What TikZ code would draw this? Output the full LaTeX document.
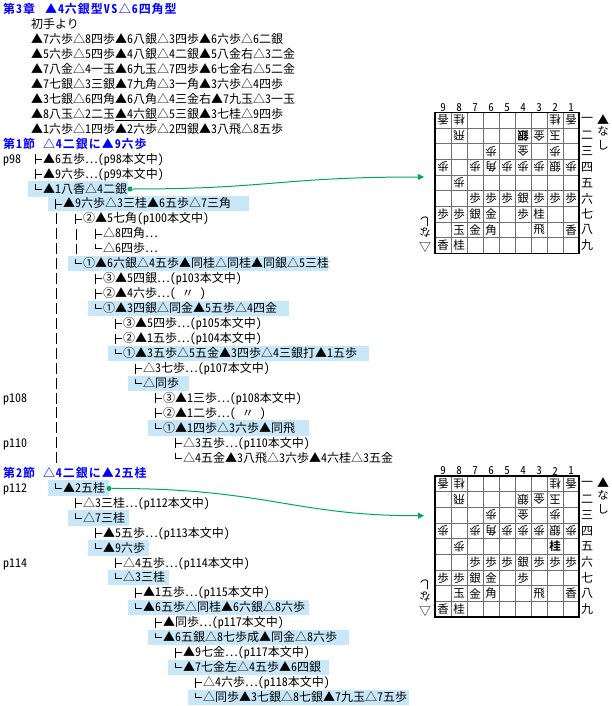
\documentclass[tikz,border=0pt]{standalone}
\usepackage{fontspec}
\usepackage{xcolor}
\usetikzlibrary{arrows.meta}
\newfontfamily\jp{Noto Sans CJK JP}[RawFeature=+hwid]
\newfontfamily\jphead{Noto Sans CJK JP Bold}[RawFeature=+hwid, LetterSpace=8]
\definecolor{hilite}{HTML}{C8E8FA}
\definecolor{linkgreen}{HTML}{00AA55}
\definecolor{headblue}{HTML}{0000FF}
\definecolor{gridgray}{HTML}{707070}

\tikzset{
    txt/.style = {anchor=west, inner sep=0pt, text height=10pt, text depth=2pt, font=\fontsize{12}{14}\jp},
    moveline/.style = {txt},
    headline/.style = {txt, text=headblue, font=\fontsize{12}{14}\jphead},
    twig/.style = {black, line width=0.8pt},
    stem/.style = {black, line width=0.8pt, dash pattern=on 11pt off 3.96pt},
    link/.style = {linkgreen, line width=1pt, -{Triangle[length=6pt,width=6pt]}},
    linkdot/.style = {circle, fill=linkgreen, inner sep=0pt, minimum size=5pt},
    sente/.style = {inner sep=0pt, font=\fontsize{11.5}{12}\jp},
    gote/.style = {sente, rotate=180},
    label/.style = {inner sep=0pt, font=\fontsize{11}{12}\jp}
}

\newcommand{\sharedpieces}[1]{
    \foreach \col/\rank/\pc in {9/1/香, 8/1/桂, 2/1/桂, 1/1/香, 8/2/飛, 3/2/金, 2/2/玉, 6/3/歩, 4/3/金, 2/3/歩,
        9/4/歩, 7/4/歩, 6/4/角, 5/4/歩, 4/4/歩, 3/4/歩, 2/4/銀, 1/4/歩, 8/5/歩}
        \node[gote] (g#1c\col r\rank) at ({(9.5-\col)*16},{(\rank-0.5)*15.67}) {\pc};
    \foreach \col/\rank/\pc in {7/6/歩, 6/6/歩, 5/6/歩, 4/6/銀, 3/6/歩, 2/6/歩, 1/6/歩, 9/7/歩, 8/7/歩, 7/7/銀, 6/7/金, 4/7/歩,
        8/8/玉, 7/8/金, 6/8/角, 3/8/飛, 1/8/香, 9/9/香, 8/9/桂}
        \node[sente] (s#1c\col r\rank) at ({(9.5-\col)*16},{(\rank-0.5)*15.67}) {\pc};
}

\newcommand{\boardframe}[1]{
    \foreach \i in {1,...,8} {
        \draw[gridgray, line width=0.9pt] ({\i*16},0) -- ({\i*16},141);
        \draw[gridgray, line width=0.9pt] (0,{\i*15.67}) -- (144,{\i*15.67});
    }
    \draw[black, line width=1.3pt] (0,0) rectangle (144,141);
    \foreach \col in {1,...,9}
        \node[label] (fl#1c\col) at ({(9.5-\col)*16},-5) {\col};
    \foreach \rank/\kan in {1/一, 2/二, 3/三, 4/四, 5/五, 6/六, 7/七, 8/八, 9/九}
        \node[sente, font=\fontsize{12}{14}\jp] (kn#1r\rank) at (152,{(\rank-0.5)*15.67}) {\kan};
    \node[sente, font=\fontsize{12}{14}\jp] (bh#1a) at (168,7) {▲};
    \node[sente] (bh#1b) at (168,19) {な};
    \node[sente] (bh#1c) at (168,33) {し};
    \node[gote, font=\fontsize{12}{14}\jp] (wh#1a) at (-10,135) {△};
    \node[gote] (wh#1b) at (-10,121) {な};
    \node[gote] (wh#1c) at (-10,109) {し};
}

\begin{document}
\begin{tikzpicture}[x=1pt, y=-1pt]
    \useasboundingbox[fill=white] (0,0) rectangle (612,706);

    \foreach \rownum/\xa/\xb in {12/28/128, 13/48/249, 17/68/328, 20/88/289, 23/108/369, 25/128/189, 28/148/309,
        32/48/109, 34/68/129, 36/88/149, 38/108/169, 40/128/309, 42/148/349, 44/168/329, 46/188/409} {
        \pgfmathsetmacro{\ry}{9.5+14.96*\rownum}
        \fill[hilite] (\xa,\ry-8) rectangle (\xb,\ry+7.5);
    }

    \node[headline] (title) at (3,9.5) {第3章　\hspace{3pt}▲4六銀型V\hspace{1.5pt}S\hspace{1.5pt}△6四角型};
    \node[headline] (sec1) at (3,144) {第1節　△4二銀に▲9六歩};
    \node[headline] (sec2) at (3,473.5) {第2節　△4二銀に▲2五桂};

    \foreach \rownum/\txt in {1/初手より, 2/▲7六歩△8四歩▲6八銀△3四歩▲6六歩△6二銀, 3/▲5六歩△5四歩▲4八銀△4二銀▲5八金右△3二金,
        4/▲7八金△4一玉▲6九玉△7四歩▲6七金右△5二金, 5/▲7七銀△3三銀▲7九角△3一角▲3六歩△4四歩,
        6/▲3七銀△6四角▲6八角△4三金右▲7九玉△3一玉, 7/▲8八玉△2二玉\underline{▲4六銀}△5三銀▲3七桂△9四歩,
        8/▲1六歩△1四歩▲2六歩△2四銀▲3八飛△8五歩} {
        \pgfmathsetmacro{\ry}{9.5+14.96*\rownum}
        \node[moveline] (opening\rownum) at (31,\ry) {\txt};
    }

    \foreach \rownum/\pg in {10/p98, 26/p108, 29/p110, 32/p112, 37/p114} {
        \pgfmathsetmacro{\ry}{9.5+14.96*\rownum}
        \node[moveline] (page\rownum) at (3,\ry) {\pg};
    }

    \foreach \rownum/\lev/\kind/\txt in {
        10/0/5/▲6五歩⋯(p98本文中),
        11/0/5/▲9六歩⋯(p99本文中),
        12/0/0/▲1八香△4二銀,
        13/1/5/▲9六歩△3三桂▲6五歩△7三角,
        14/2/5/②▲5七角(p100本文中),
        15/3/5/△8四角⋯,
        16/3/0/△6四歩⋯,
        17/2/0/①▲6六銀△4五歩▲同桂△同桂▲同銀△5三桂,
        18/3/5/③▲5四銀⋯(p103本文中),
        19/3/5/②▲4六歩⋯(　〃 ),
        20/3/0/①▲3四銀△同金▲5五歩△4四金,
        21/4/5/③▲5四歩⋯(p105本文中),
        22/4/5/②▲1五歩⋯(p104本文中),
        23/4/0/①▲3五歩△5五金▲3四歩△4三銀打▲1五歩,
        24/5/5/△3七歩⋯(p107本文中),
        25/5/0/△同歩,
        26/6/5/③▲1三歩⋯(p108本文中),
        27/6/5/②▲1二歩⋯(　〃 ),
        28/6/0/①▲1四歩△3六歩▲同飛,
        29/7/5/△3五歩⋯(p110本文中),
        30/7/0/△4五金▲3八飛△3六歩▲4六桂△3五金,
        32/1/0/▲2五桂,
        33/2/5/△3三桂⋯(p112本文中),
        34/2/0/△7三桂,
        35/3/5/▲5五歩⋯(p113本文中),
        36/3/0/▲9六歩,
        37/4/5/△4五歩⋯(p114本文中),
        38/4/0/△3三桂,
        39/5/5/▲1五歩⋯(p115本文中),
        40/5/0/▲6五歩△同桂▲6六銀△8六歩,
        41/6/5/▲同歩⋯(p117本文中),
        42/6/0/▲6五銀△8七歩成▲同金△8六歩,
        43/7/5/▲9七金⋯(p117本文中),
        44/7/0/▲7七金左△4五歩▲6四銀,
        45/8/5/△4六歩⋯(p118本文中),
        46/8/0/△同歩▲3七銀△8七銀▲7九玉△7五歩} {
        \pgfmathsetmacro{\ry}{9.5+14.96*\rownum}
        \pgfmathsetmacro{\tx}{43+20*\lev}
        \node[moveline] (r\rownum) at (\tx,\ry) {\txt};
        \draw[twig] ([shift={(-8,-5)}]r\rownum.west) -- ([shift={(-8,\kind)}]r\rownum.west);
        \draw[twig] ([shift={(-8,0)}]r\rownum.west) -- ([shift={(-1,0)}]r\rownum.west);
    }

    \coordinate (stemAtop) at (56.3,213);
    \coordinate (stemAend) at (56.3,465);
    \coordinate (stemBtop) at (76,229);
    \coordinate (stemBend) at (76,254);
    \draw[stem] (stemAtop) -- (stemAend);
    \draw[stem] (stemBtop) -- (stemBend);

    \begin{scope}[shift={(435,112.3)}]
        \sharedpieces{a}
        \boardframe{a}
        \node[gote, font=\fontsize{11.5}{12}\jphead] (gaBold) at ({5.5*16},{1.5*15.67}) {銀};
        \node[sente] (saKei) at ({6.5*16},{6.5*15.67}) {桂};
    \end{scope}

    \begin{scope}[shift={(435,476)}]
        \sharedpieces{b}
        \boardframe{b}
        \node[gote] (gbGin) at ({5.5*16},{1.5*15.67}) {銀};
        \node[sente, font=\fontsize{11.5}{12}\jphead] (sbBold) at ({7.5*16},{4.5*15.67}) {桂};
    \end{scope}

    \node[linkdot] (dotA) at (130,189) {};
    \node[linkdot] (dotB) at (109,488.5) {};
    \coordinate (tipA) at (424,177);
    \coordinate (tipB) at (424,515.7);
    \draw[link] (dotA) .. controls (270,189) and (280,177) .. (tipA);
    \draw[link] (dotB) .. controls (265,488) and (295,516) .. (tipB);
\end{tikzpicture}
\end{document}
